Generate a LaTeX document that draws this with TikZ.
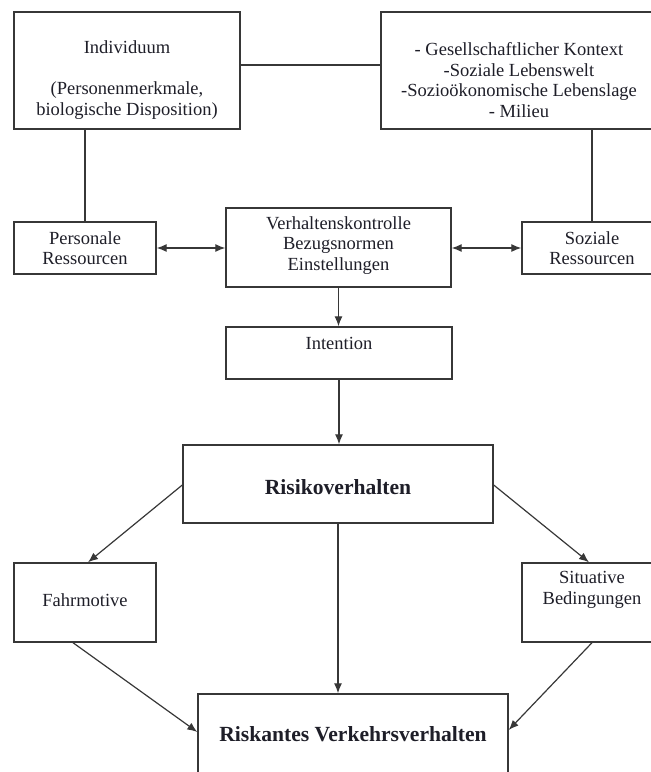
\documentclass[tikz,border=0pt]{standalone}
\usepackage{fontspec}
\setmainfont{Liberation Serif}
\usetikzlibrary{arrows.meta,calc}
\definecolor{ln}{RGB}{55,55,55}
\definecolor{tx}{RGB}{30,30,40}
\begin{document}
\begin{tikzpicture}[x=1pt,y=-1pt,
  box/.style={draw=ln,line width=1.4pt,fill=none,inner sep=0pt},
  txt/.style={text=tx,align=center,inner sep=0pt,font=\fontsize{18.5}{20.6}\selectfont},
  btxt/.style={text=tx,align=center,inner sep=0pt,font=\fontsize{21.6}{24}\selectfont\bfseries},
  con/.style={draw=ln,line width=1.2pt},
  arr/.style={con,-{Latex[length=10pt,width=8pt]}},
  darr/.style={con,{Latex[length=10pt,width=8pt]}-{Latex[length=10pt,width=8pt]}}]
\useasboundingbox (0,0) rectangle (651,772);
% boxes
\node[box,minimum width=226pt,minimum height=117pt] (ind) at (127,70.5) {};
\node[box,minimum width=276pt,minimum height=117pt] (ges) at (519,70.5) {};
\node[box,minimum width=142pt,minimum height=52pt] (pers) at (85,248) {};
\node[box,minimum width=225pt,minimum height=79pt] (verh) at (338.5,247.5) {};
\node[box,minimum width=140pt,minimum height=52pt] (soz) at (592,248) {};
\node[box,minimum width=226pt,minimum height=52pt] (int) at (339,353) {};
\node[box,minimum width=310pt,minimum height=78pt] (risk) at (338,484) {};
\node[box,minimum width=142pt,minimum height=79pt] (fahr) at (85,602.5) {};
\node[box,minimum width=140pt,minimum height=79pt] (sit) at (592,602.5) {};
\node[box,minimum width=310pt,minimum height=80pt] (rv) at (353,734) {};
% texts
\node[txt] (indT) at (127,80) {Individuum\\ ~\\ (Personenmerkmale,\\ biologische Disposition)};
\node[txt] (gesT) at (519,80) {- Gesellschaftlicher Kontext\\ -Soziale Lebenswelt\\ -Sozioökonomische Lebenslage\\ - Milieu};
\node[txt] (persT) at (85,248) {Personale\\ Ressourcen};
\node[txt] (verhT) at (338.5,245.5) {Verhaltenskontrolle\\ Bezugsnormen\\ Einstellungen};
\node[txt] (sozT) at (592,248) {Soziale\\ Ressourcen};
\node[txt] (intT) at (339,343) {Intention};
\node[btxt] (riskT) at (338,487) {Risikoverhalten};
\node[txt] (fahrT) at (85,600) {Fahrmotive};
\node[txt] (sitT) at (592,590) {Situative\\ Bedingungen};
\node[btxt] (rvT) at (353,734) {Riskantes Verkehrsverhalten};
% connectors
\draw[con] ([yshift=5.5pt]ind.east) -- ([yshift=5.5pt]ind.east -| ges.west);
\draw[con] (pers.north) -- (pers.north |- ind.south);
\draw[con] (soz.north) -- (soz.north |- ges.south);
\draw[darr] (pers.east) -- (pers.east -| verh.west);
\draw[darr] (soz.west -| verh.east) -- (soz.west);
\draw[arr] (verh.south) -- (verh.south |- int.north);
\draw[arr] (int.south) -- (int.south |- risk.north);
\draw[arr] ([yshift=-1pt]risk.west) -- ([xshift=3pt]fahr.north);
\draw[arr] ([yshift=-1pt]risk.east) -- ([xshift=-3pt]sit.north);
\draw[arr] (risk.south) -- (risk.south |- rv.north);
\draw[arr] ([xshift=-12pt]fahr.south) -- ([yshift=2pt]rv.west);
\draw[arr] (sit.south) -- ([yshift=4pt]rv.east);
\end{tikzpicture}
\end{document}
